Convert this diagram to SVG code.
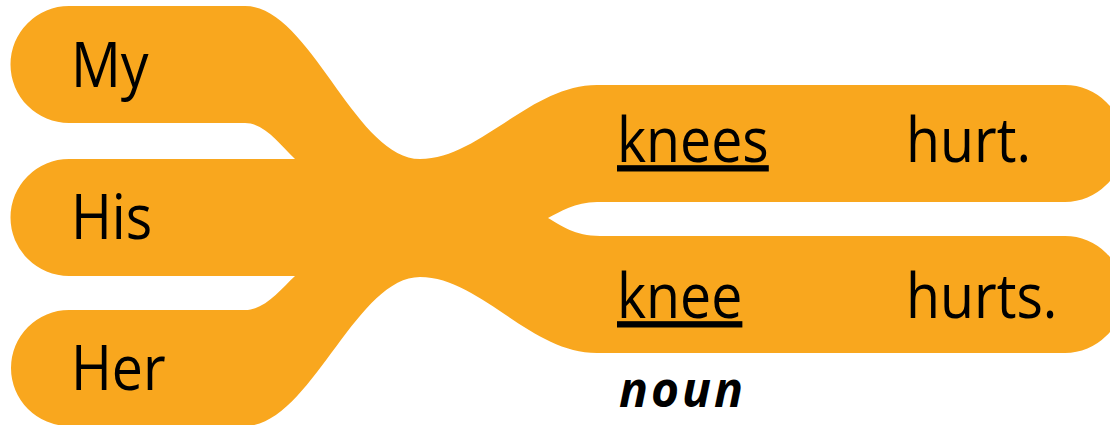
<svg xmlns="http://www.w3.org/2000/svg" width="1110" height="425" viewBox="0 0 1110 425">
<style>
.shape{fill:#F9A71E;}
.w{font-family:"Open Sans","Noto Sans",sans-serif;font-size:63px;fill:#000;}
.u{text-decoration:underline;text-decoration-thickness:2.5px;}
.pos{font-family:"Open Sans","Noto Sans",sans-serif;font-size:48px;font-weight:bold;font-style:italic;fill:#000;stroke:#fff;stroke-width:3px;paint-order:stroke;letter-spacing:3px;}
</style>
<g id="connectors">
<path class="shape" d="M69,6 H245 C310,6 355,159 420,159 C480,159 530,85 597,85 H1065 A58.5,58.5 0 0 1 1065,202 H597 C575,202 560,212 548,218 C560,225 575,236 600,236 H1065 A58.5,58.5 0 0 1 1065,353 H597 C530,353 480,277 420,277 C355,277 310,426 245,426 H69 A58,58 0 0 1 69,310 H245 C265,310 280,290 295,276 H69 A58.5,58.5 0 0 1 69,159 H295 C280,145 265,123 245,123 H69 A58.5,58.5 0 0 1 69,6 Z"/>
</g>
<g id="my"><text class="w" transform="translate(71,87) scale(0.88,1)">My</text></g>
<g id="his"><text class="w" transform="translate(71,239) scale(0.88,1)">His</text></g>
<g id="her"><text class="w" transform="translate(71,390) scale(0.88,1)">Her</text></g>
<g id="knees"><text class="w u" transform="translate(617,162) scale(0.88,1)">knees</text></g>
<g id="hurt"><text class="w" transform="translate(906,162) scale(0.88,1)">hurt.</text></g>
<g id="knee"><text class="w u" transform="translate(617,318) scale(0.88,1)">knee</text></g>
<g id="hurts"><text class="w" transform="translate(906,318) scale(0.88,1)">hurts.</text></g>
<g id="noun"><text class="pos" x="619" y="407">noun</text></g>
</svg>
